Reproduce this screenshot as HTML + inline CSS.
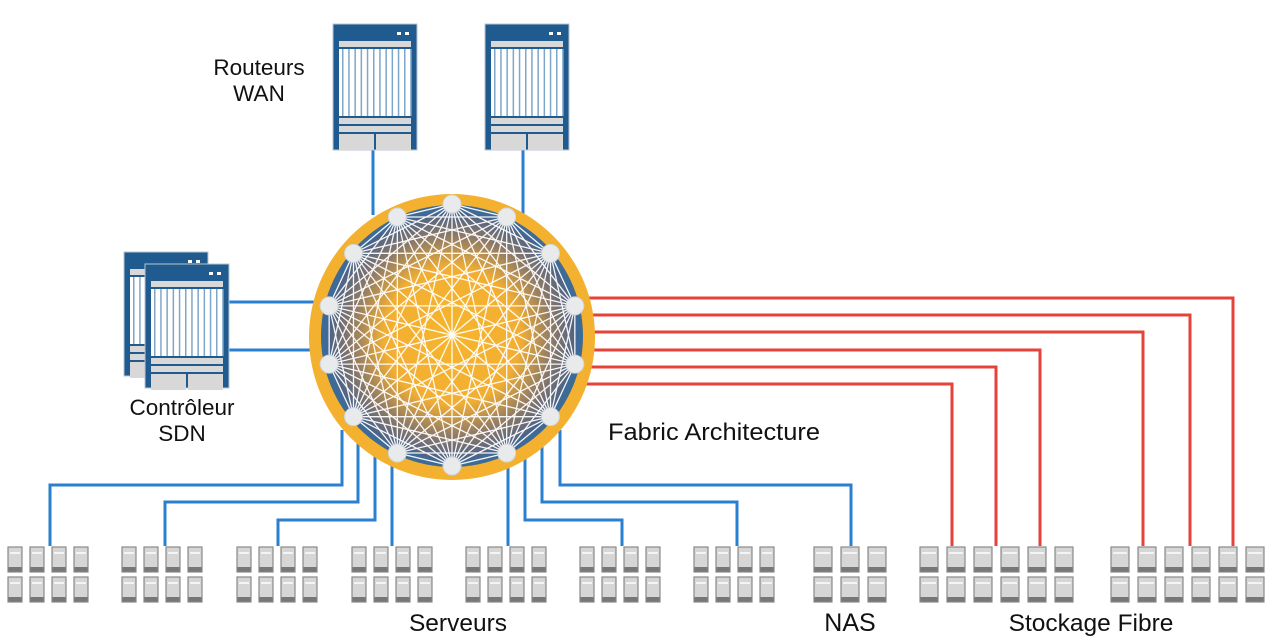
<!DOCTYPE html>
<html><head><meta charset="utf-8"><style>
html,body{margin:0;padding:0;background:#fff;}
svg{display:block;}
text{font-family:"Liberation Sans",sans-serif;fill:#111;}
</style></head><body>
<svg id="s" width="1280" height="643" viewBox="0 0 1280 643" xmlns="http://www.w3.org/2000/svg">
<defs>
<radialGradient id="g" cx="50%" cy="50%" r="50%">
<stop offset="0" stop-color="#f7b52c"/>
<stop offset="0.55" stop-color="#f2ae33"/>
<stop offset="0.82" stop-color="#8a7868"/>
<stop offset="1" stop-color="#4a6288"/>
</radialGradient>
</defs>
<g id="lines" fill="none" stroke-width="3"></g>
<circle cx="452" cy="337" r="143" fill="#f4b02f"/>
<circle cx="452" cy="336" r="131" fill="#3d6a96"/>
<circle cx="452" cy="336" r="124" fill="url(#g)"/>
<g id="mesh" stroke="#fff" stroke-width="1.3" opacity="0.95"></g>
<g id="nodes"></g>
<g id="devs"></g>
<text x="259" y="75" font-size="22.5" text-anchor="middle">Routeurs</text>
<text x="259" y="101" font-size="22.5" text-anchor="middle">WAN</text>
<text x="182" y="415" font-size="22.5" text-anchor="middle">Contrôleur</text>
<text x="182" y="441" font-size="22.5" text-anchor="middle">SDN</text>
<text x="608" y="440" font-size="24" textLength="212" lengthAdjust="spacingAndGlyphs">Fabric Architecture</text>
<text x="458" y="631" font-size="24.5" text-anchor="middle">Serveurs</text>
<text x="850" y="631" font-size="25" text-anchor="middle">NAS</text>
<text x="1091" y="631" font-size="24.5" text-anchor="middle">Stockage Fibre</text>
</svg>
<script>
var NS="http://www.w3.org/2000/svg";
function el(p,t,a){var e=document.createElementNS(NS,t);for(var k in a)e.setAttribute(k,a[k]);document.getElementById(p).appendChild(e);return e;}
var B="#2a7fcf",R="#e5433a";
function pl(pts,c){el("lines","polyline",{points:pts,stroke:c});}
pl("373,150 373,215",B);pl("523,150 523,215",B);
pl("229,302 320,302",B);pl("229,350 320,350",B);
pl("342,430 342,485 50,485 50,546",B);
pl("358,440 358,502 165,502 165,546",B);
pl("375,450 375,520 278,520 278,546",B);
pl("392,455 392,546",B);
pl("508,455 508,546",B);
pl("525,450 525,520 622,520 622,546",B);
pl("542,440 542,502 737,502 737,546",B);
pl("560,430 560,485 851,485 851,546",B);
var rs=[[298,1233],[315,1190],[332,1143],[350,1040],[367,996],[384,952]];
rs.forEach(function(r){pl("585,"+r[0]+" "+r[1]+","+r[0]+" "+r[1]+",546",R);});
var n=14,pts=[];
for(var i=0;i<n;i++){var a=-Math.PI/2+i*2*Math.PI/n;pts.push([452+126*Math.cos(a),335+131*Math.sin(a)]);}
for(var i=0;i<n;i++)for(var j=i+1;j<n;j++)el("mesh","line",{x1:pts[i][0],y1:pts[i][1],x2:pts[j][0],y2:pts[j][1]});
pts.forEach(function(p){el("nodes","circle",{cx:p[0],cy:p[1],r:9,fill:"#e8eaeb",stroke:"#d0d4d8","stroke-width":1});});
function chassis(x,y,w,h){
 el("devs","rect",{x:x,y:y,width:w,height:h,fill:"#1f5b8e",stroke:"#b8c4cf","stroke-width":1});
 el("devs","rect",{x:x+w-20,y:y+8,width:4,height:3,fill:"#fff"});
 el("devs","rect",{x:x+w-12,y:y+8,width:4,height:3,fill:"#fff"});
 el("devs","rect",{x:x+6,y:y+17,width:w-12,height:6,fill:"#d8d8d8"});
 el("devs","rect",{x:x+6,y:y+25,width:w-12,height:67,fill:"#fff"});
 for(var k=0;k<12;k++)el("devs","rect",{x:x+9+k*6.2,y:y+25,width:1.5,height:67,fill:"#7fa6c8"});
 el("devs","rect",{x:x+6,y:y+94,width:w-12,height:6,fill:"#d8d8d8"});
 el("devs","rect",{x:x+6,y:y+102,width:w-12,height:6,fill:"#d8d8d8"});
 el("devs","rect",{x:x+6,y:y+110,width:(w-14)/2,height:16,fill:"#d8d8d8"});
 el("devs","rect",{x:x+8+(w-14)/2,y:y+110,width:(w-14)/2,height:16,fill:"#d8d8d8"});
}
chassis(333,24,84,126);chassis(485,24,84,126);
chassis(124,252,84,124);chassis(145,264,84,124);
function unit(x,y,w){
 el("devs","rect",{x:x,y:y,width:w,height:25,fill:"#d6d6d6",stroke:"#8a8a8a","stroke-width":1.2});
 el("devs","rect",{x:x+2,y:y+5,width:w-4,height:2,fill:"#f4f4f4"});
 el("devs","rect",{x:x+0.5,y:y+20,width:w-1,height:4.5,fill:"#777"});
}
[8,122,237,352,466,580,694].forEach(function(g){for(var c=0;c<4;c++){unit(g+c*22,547,14);unit(g+c*22,577,14);}});
[814,841,868].forEach(function(x){unit(x,547,18);unit(x,577,18);});
[920,1111].forEach(function(g){for(var c=0;c<6;c++){unit(g+c*27,547,18);unit(g+c*27,577,18);}});
</script>
</body></html>
